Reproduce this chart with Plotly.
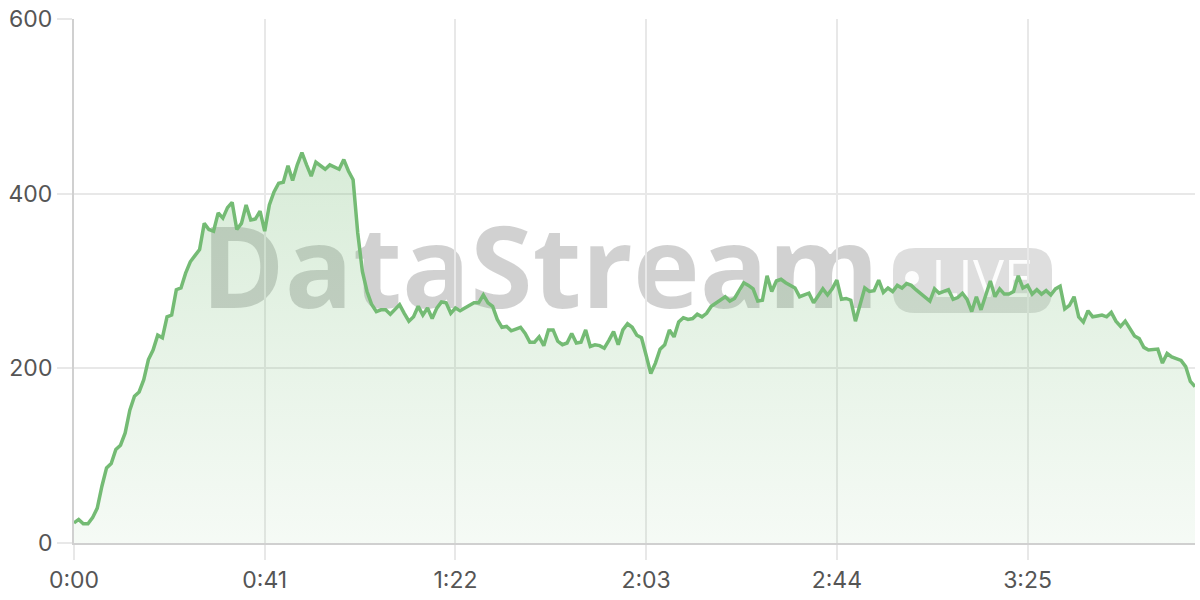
import plotly.graph_objects as go

# ---- data ----
viewers = [
    23, 27, 22, 22, 29, 40, 65, 86, 91, 107,
    112, 126, 152, 168, 173, 187, 210, 221, 238, 235,
    259, 261, 290, 292, 309, 322, 329, 336, 366, 359,
    357, 378, 372, 384, 390, 359, 366, 387, 370, 371,
    380, 357, 387, 402, 412, 413, 432, 415, 433, 447,
    433, 420, 436, 432, 428, 433, 431, 428, 439, 426,
    416, 355, 311, 288, 273, 265, 267, 267, 262, 267,
    273, 263, 254, 259, 271, 261, 269, 257, 269, 276,
    275, 263, 269, 266, 269, 273, 275, 275, 284, 275,
    271, 256, 247, 248, 243, 245, 247, 240, 230, 230,
    236, 226, 244, 244, 231, 227, 229, 240, 229, 230,
    244, 225, 227, 226, 223, 232, 242, 227, 244, 251,
    247, 238, 235, 215, 194, 206, 222, 227, 244, 236,
    253, 258, 256, 257, 262, 259, 263, 271, 275, 278,
    282, 277, 280, 289, 298, 295, 291, 277, 278, 306,
    288, 300, 302, 298, 295, 292, 282, 284, 286, 275,
    283, 291, 284, 291, 301, 279, 280, 278, 254, 275,
    292, 288, 289, 301, 287, 292, 288, 295, 292, 297,
    295, 290, 286, 282, 277, 291, 286, 288, 290, 279,
    281, 286, 279, 265, 282, 267, 282, 300, 282, 291,
    285, 285, 288, 306, 292, 295, 285, 290, 285, 289,
    284, 291, 294, 268, 272, 282, 259, 253, 266, 259,
    260, 261, 259, 264, 254, 248, 254, 246, 237, 234,
    224, 221, 222, 222, 206, 217, 213, 211, 209, 202,
    185, 179,
]
seconds = list(range(len(viewers)))  # one sample per second

x_tick_values = [0, 41, 82, 123, 164, 205]
x_tick_labels = ["0:00", "0:41", "1:22", "2:03", "2:44", "3:25"]
y_tick_values = [0, 200, 400, 600]

# ---- layout geometry ----
W, H = 1200, 600
ML, MR, MT, MB = 74, 5, 19, 57
PW, PH = W - ML - MR, H - MT - MB


def px(x):
    return (x - ML) / PW


def py(y):
    return (H - MB - y) / PH


LINE = "#74bb74"
GRID = "#e8e8e8"
AXIS = "#d0d0d0"
FONT = "Inter"

fig = go.Figure()
fig.add_trace(go.Scatter(
    x=seconds, y=viewers, mode="lines",
    line=dict(color=LINE, width=3.5),
    fill="tozeroy",
    fillgradient=dict(
        type="vertical", start=0, stop=600,
        colorscale=[[0, "rgba(118,188,118,0.07)"], [1, "rgba(118,188,118,0.36)"]],
    ),
    hoverinfo="skip", showlegend=False,
))

# ---- watermark (drawn between gridlines and traces) ----
x0, x1, y0, y1, r = 893, 1052, 248, 313, 22
pill = (
    f"M {px(x0 + r)},{py(y0)} L {px(x1 - r)},{py(y0)} "
    f"Q {px(x1)},{py(y0)} {px(x1)},{py(y0 + r)} L {px(x1)},{py(y1 - r)} "
    f"Q {px(x1)},{py(y1)} {px(x1 - r)},{py(y1)} L {px(x0 + r)},{py(y1)} "
    f"Q {px(x0)},{py(y1)} {px(x0)},{py(y1 - r)} L {px(x0)},{py(y0 + r)} "
    f"Q {px(x0)},{py(y0)} {px(x0 + r)},{py(y0)} Z"
)
shapes = [
    dict(type="rect", xref="paper", yref="paper", layer="between",
         x0=px(195), x1=px(885), y0=py(322), y1=py(222),
         line=dict(width=0), fillcolor="rgba(0,0,0,0)",
         label=dict(text="DataStream", textposition="middle center",
                    font=dict(family="Open Sans", size=113, weight=700,
                              color="rgba(0,0,0,0.18)"))),
    dict(type="path", xref="paper", yref="paper", layer="between",
         path=pill, line=dict(width=0), fillcolor="rgba(0,0,0,0.13)"),
    dict(type="circle", xref="paper", yref="paper", layer="between",
         x0=px(905), x1=px(919), y0=py(285), y1=py(271),
         line=dict(width=0), fillcolor="rgba(255,255,255,0.92)"),
    dict(type="rect", xref="paper", yref="paper", layer="between",
         x0=px(926), x1=px(1038), y0=py(306), y1=py(254),
         line=dict(width=0), fillcolor="rgba(0,0,0,0)",
         label=dict(text="LIVE", textposition="middle center",
                    font=dict(family="Open Sans", size=52, weight=500,
                              color="rgba(255,255,255,0.92)"))),
]

fig.update_layout(
    width=W, height=H,
    margin=dict(l=ML, r=MR, t=MT, b=MB, pad=0),
    paper_bgcolor="white", plot_bgcolor="white",
    font=dict(family=FONT, size=23, color="#555555"),
    shapes=shapes,
    xaxis=dict(
        range=[0, seconds[-1]], tickmode="array",
        tickvals=x_tick_values, ticktext=x_tick_labels,
        showgrid=True, gridcolor=GRID, gridwidth=1.5,
        ticks="outside", ticklen=15, tickcolor=GRID, tickwidth=1.5,
        showline=True, linecolor=AXIS, linewidth=2,
        zeroline=False, fixedrange=True,
    ),
    yaxis=dict(
        range=[0, 600], tickmode="array", tickvals=y_tick_values,
        showgrid=True, gridcolor=GRID, gridwidth=1.5,
        ticks="outside", ticklen=15, tickcolor=GRID, tickwidth=1.5,
        showline=True, linecolor=AXIS, linewidth=2,
        zeroline=False, fixedrange=True,
    ),
)

fig.write_html("out.html", config={"displayModeBar": False},
               post_script="document.body.style.margin='0';")
